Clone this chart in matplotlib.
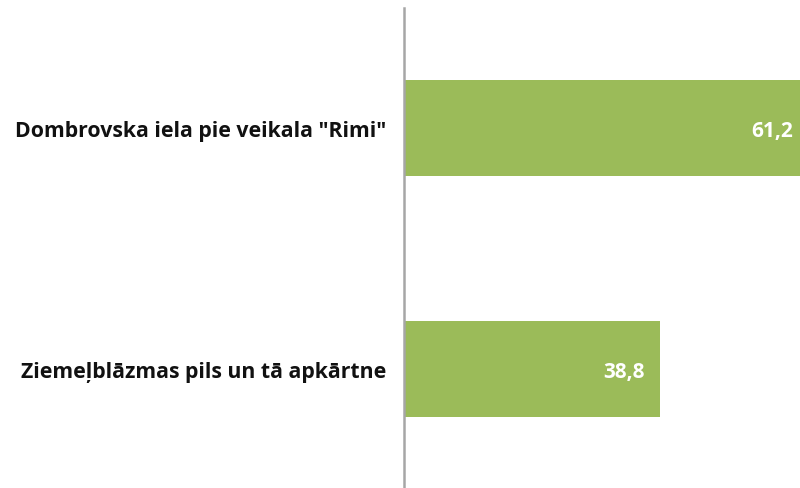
import matplotlib
matplotlib.use("Agg")
import matplotlib.pyplot as plt

categories = ['Dombrovska iela pie veikala "Rimi"', 'Ziemeļblāzmas pils un tā apkārtne']
values = [61.2, 38.8]
value_labels = ['61,2', '38,8']

fig = plt.figure(figsize=(8.0, 4.89), dpi=100)
ax = fig.add_axes([0.5056, -0.004, 0.4944, 0.9857])

y = list(range(len(categories)))
ax.barh(y, values, height=0.398, color='#9BBB59', zorder=2)
ax.set_ylim(1.5, -0.5)
ax.set_xlim(0, 60.06)

for i, (v, lab) in enumerate(zip(values, value_labels)):
    ax.annotate(lab, xy=(v, i), xytext=(-15, -2), textcoords='offset pixels',
                ha='right', va='center', color='white', fontsize=15,
                fontweight='bold', family='Open Sans', annotation_clip=False, clip_on=True)

ax.set_yticks(y)
ax.set_yticklabels(categories, fontsize=15.3, fontweight='bold', family='Open Sans', color='#111111')
ax.tick_params(axis='y', length=0, pad=13)
ax.set_xticks([])
for s in ['top', 'right', 'bottom']:
    ax.spines[s].set_visible(False)
ax.spines['left'].set_color('#a6a6a6')
ax.spines['left'].set_linewidth(1.8)
ax.spines['left'].set_zorder(3)

fig.savefig('out.png', dpi=100)
